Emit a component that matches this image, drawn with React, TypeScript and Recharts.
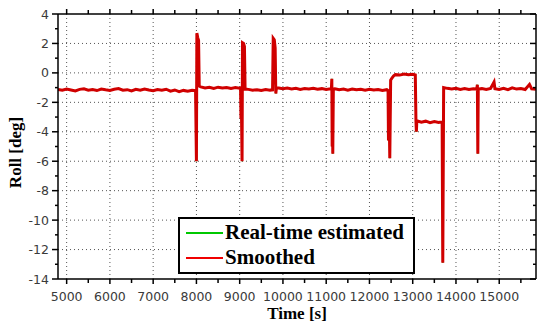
import React from 'react';
import { LineChart, Line, XAxis, YAxis, ReferenceLine, Legend } from 'recharts';

// time stamps [s] and roll estimates [deg]
const time = [
  4800, 4900, 5000, 5100, 5200, 5300, 5400, 5500, 5600, 5700,
  5800, 5900, 6000, 6100, 6200, 6300, 6400, 6500, 6600, 6700,
  6800, 6900, 7000, 7100, 7200, 7300, 7400, 7500, 7600, 7700,
  7800, 7900, 7980, 8000, 8010, 8030, 8050, 8065,
  8100, 8200, 8300, 8400, 8500, 8600, 8700, 8800, 8900, 9000,
  9020, 9030, 9040, 9055, 9065, 9090, 9110, 9125,
  9200, 9300, 9400, 9500, 9600, 9700, 9760, 9775, 9800, 9820, 9835, 9850,
  9900, 10000, 10100, 10200, 10300, 10400, 10500, 10600, 10700, 10800, 10900, 11000, 11100,
  11120, 11130, 11138, 11145, 11152, 11165,
  11200, 11300, 11400, 11500, 11600, 11700, 11800, 11900, 12000, 12100, 12200, 12300, 12400,
  12430, 12440, 12450, 12470, 12490, 12520, 12560, 12600,
  12700, 12800, 12900, 13000, 13060, 13075, 13085, 13095,
  13200, 13300, 13400, 13500, 13600, 13680, 13695, 13715,
  13800, 13900, 14000, 14100, 14200, 14300, 14400, 14480, 14495, 14505, 14515,
  14600, 14700, 14800, 14880, 14900, 15000, 15100, 15200, 15300, 15400, 15500, 15600, 15700, 15750, 15850,
];

const smoothed = [
  -1.12, -1.18, -1.1, -1.16, -1.22, -1.12, -1.08, -1.17, -1.13, -1.2,
  -1.1, -1.15, -1.19, -1.11, -1.06, -1.18, -1.14, -1.23, -1.12, -1.17,
  -1.09, -1.16, -1.21, -1.13, -1.18, -1.11, -1.24, -1.16, -1.27, -1.19,
  -1.25, -1.18, -1.2, -6.0, 2.7, 2.4, 2.2, -0.9,
  -0.95, -1.02, -0.98, -1.05, -0.97, -1.03, -0.99, -1.06, -1.0, -1.04,
  -1.02, -3.1, -2.2, -6.0, 2.05, 2.0, 1.8, -1.1,
  -1.12, -1.18, -1.14, -1.2, -1.13, -1.17, -1.15, 2.35, 2.25, 1.7, -1.4, -1.0,
  -1.02, -1.08, -1.03, -1.1, -1.05, -1.12, -1.06, -1.09, -1.04, -1.11, -1.07, -1.13, -1.08,
  -1.1, -0.4, -5.0, -1.3, -5.5, -1.1,
  -1.08, -1.14, -1.1, -1.17, -1.09, -1.15, -1.12, -1.18, -1.11, -1.16, -1.13, -1.19, -1.14,
  -1.2, -4.6, -1.3, -5.8, -0.5, -0.35, -0.2, -0.12,
  -0.15, -0.08, -0.13, -0.1, -0.14, -3.3, -4.0, -3.25,
  -3.35, -3.28, -3.38, -3.3, -3.36, -3.32, -12.9, -1.0,
  -1.05, -1.1, -1.04, -1.12, -1.07, -1.13, -1.08, -1.1, -0.8, -5.5, -1.1,
  -1.07, -1.13, -1.06, -0.62, -1.08, -1.12, -1.05, -1.14, -1.02, -1.1, -1.06, -1.13, -0.78, -1.08, -1.12,
];

// the real-time estimate lies under the smoothed curve almost everywhere
const realTime = smoothed;

const xTicks = [5000, 5500, 6000, 6500, 7000, 7500, 8000, 8500, 9000, 9500, 10000, 10500,
  11000, 11500, 12000, 12500, 13000, 13500, 14000, 14500, 15000, 15500];
const xGrid = [5000, 6000, 7000, 8000, 9000, 10000, 11000, 12000, 13000, 14000, 15000];
const yTicks = [-14, -13, -12, -11, -10, -9, -8, -7, -6, -5, -4, -3, -2, -1, 0, 1, 2, 3, 4];
const yGrid = [-12, -10, -8, -6, -4, -2, 0, 2];

const data = time.map((t, i) => ({ t, realTime: realTime[i], smoothed: smoothed[i] }));

// legend swatches are drawn thin and bright
const swatchColor: Record<string, string> = { 'Real-time estimated': '#00c800', Smoothed: '#f00000' };

const tickFont = { fontFamily: 'DejaVu Sans', fontSize: 12.5, fill: '#3a3a3a' };
const labelFont = { fontFamily: 'Liberation Serif', fontWeight: 'bold', fontSize: 17, fill: '#000' };

const BottomTick = ({ x, y, payload }: any) => {
  const major = payload.value % 1000 === 0;
  return (
    <g>
      <line x1={x} y1={y} x2={x} y2={y + (major ? 5 : 4)} stroke="#000" strokeWidth={1.5} />
      {major && (
        <text x={x} y={y + 21.5} textAnchor="middle" {...tickFont}>{payload.value}</text>
      )}
    </g>
  );
};

const TopTick = ({ x, y, payload }: any) => {
  const major = payload.value % 1000 === 0;
  return <line x1={x} y1={y - (major ? 5 : 4)} x2={x} y2={y} stroke="#000" strokeWidth={1.5} />;
};

const LeftTick = ({ x, y, payload }: any) => {
  const major = payload.value % 2 === 0;
  return (
    <g>
      <line x1={x - (major ? 6 : 3)} y1={y} x2={x} y2={y} stroke="#000" strokeWidth={1.5} />
      {major && (
        <text x={x - 9} y={y} dy="0.36em" textAnchor="end" {...tickFont}>{payload.value}</text>
      )}
    </g>
  );
};

const RightTick = ({ x, y, payload }: any) => {
  const major = payload.value % 2 === 0;
  return <line x1={x - (major ? 6 : 3)} y1={y} x2={x} y2={y} stroke="#000" strokeWidth={1.5} />;
};

const LegendBox = ({ payload }: any) => (
  <div
    style={{
      boxSizing: 'border-box', width: 237, height: 57, border: '2px solid #000',
      background: '#fff', paddingTop: 1,
    }}
  >
    {(payload || []).map((p: any) => (
      <div key={p.value} style={{ display: 'flex', alignItems: 'center', height: 25 }}>
        <span
          style={{
            display: 'inline-block', width: 37, height: 2,
            background: swatchColor[p.value] || p.color, marginLeft: 6, marginRight: 2,
          }}
        />
        <span style={{ fontFamily: 'Liberation Serif', fontWeight: 'bold', fontSize: 21, color: '#000', lineHeight: '25px' }}>
          {p.value}
        </span>
      </div>
    ))}
  </div>
);

export default function App() {
  return (
    <div style={{ position: 'absolute', left: 0, top: 0, background: '#fff' }}>
      <LineChart width={537} height={324} data={data} margin={{ top: 0, right: 0, bottom: 0, left: 0 }}>
        <XAxis
          dataKey="t" type="number" domain={[4800, 15850]} allowDataOverflow ticks={xTicks} interval={0}
          height={45} tickSize={0} tickMargin={0} tickLine={false} tick={<BottomTick />}
          axisLine={{ stroke: '#000', strokeWidth: 1.5 }}
          label={{ value: 'Time [s]', position: 'insideBottom', offset: 5, ...labelFont }}
        />
        <XAxis
          xAxisId="top" orientation="top" dataKey="t" type="number" domain={[4800, 15850]} allowDataOverflow
          ticks={xTicks} interval={0} height={14} tickSize={0} tickMargin={0} tickLine={false}
          tick={<TopTick />} axisLine={{ stroke: '#000', strokeWidth: 1.5 }}
        />
        <YAxis
          type="number" domain={[-14, 4]} allowDataOverflow ticks={yTicks} interval={0} width={58}
          tickSize={0} tickMargin={0} tickLine={false} tick={<LeftTick />}
          axisLine={{ stroke: '#000', strokeWidth: 1.5 }}
          label={{ value: 'Roll [deg]', angle: -90, position: 'insideLeft', offset: 15, dy: 6, style: { textAnchor: 'middle' }, ...labelFont }}
        />
        <YAxis
          yAxisId="right" orientation="right" type="number" domain={[-14, 4]} allowDataOverflow ticks={yTicks}
          interval={0} width={1} tickSize={0} tickMargin={0} tickLine={false} tick={<RightTick />}
          axisLine={{ stroke: '#000', strokeWidth: 1.5 }}
        />
        {xGrid.map((v) => (
          <ReferenceLine key={`x${v}`} x={v} stroke="#555" strokeDasharray="1 3" />
        ))}
        {yGrid.map((v) => (
          <ReferenceLine key={`y${v}`} y={v} stroke="#555" strokeDasharray="1 3" />
        ))}
        <Line
          type="linear" dataKey="realTime" name="Real-time estimated" stroke="#00c000"
          strokeWidth={1.5} dot={false} isAnimationActive={false}
        />
        <Line
          type="linear" dataKey="smoothed" name="Smoothed" stroke="#d00000"
          strokeWidth={3} dot={false} isAnimationActive={false}
        />
        <Legend
          layout="horizontal" verticalAlign="middle" align="center" content={<LegendBox />}
          wrapperStyle={{ left: 178, top: 217, width: 237, height: 57 }}
        />
      </LineChart>
    </div>
  );
}
